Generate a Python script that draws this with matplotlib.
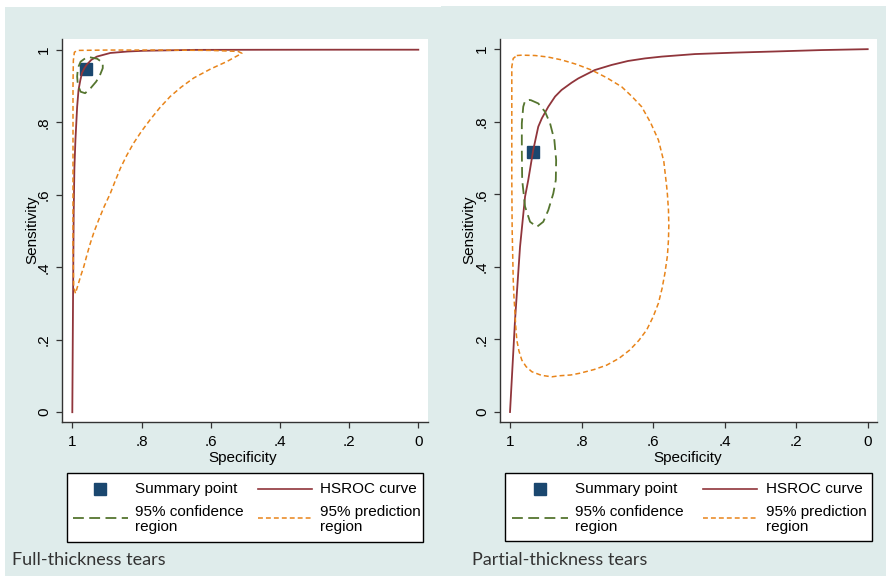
import matplotlib
matplotlib.use("Agg")
import matplotlib.pyplot as plt
from matplotlib.lines import Line2D
from matplotlib.patches import Rectangle

# ---------------- data ----------------
titles = ["Full-thickness tears", "Partial-thickness tears"]
tick_vals = [0, 0.2, 0.4, 0.6, 0.8, 1.0]
tick_labels = ["0", ".2", ".4", ".6", ".8", "1"]

# Full-thickness tears
full_sum_spec = 0.960
full_sum_sens = 0.947
full_hsroc_spec = [1.000, 0.998, 0.996, 0.994, 0.991, 0.986, 0.982, 0.977, 0.972, 0.965,
                   0.958, 0.945, 0.929, 0.890, 0.840, 0.794, 0.649, 0.450, 0.200, 0.000]
full_hsroc_sens = [0.000, 0.300, 0.550, 0.673, 0.751, 0.843, 0.889, 0.915, 0.936, 0.949,
                   0.959, 0.972, 0.981, 0.991, 0.995, 0.997, 0.9995, 0.9998, 1.000, 1.000]
full_conf_spec = [0.949, 0.928, 0.912, 0.912, 0.920, 0.931, 0.947, 0.963, 0.976,
                  0.984, 0.986, 0.984, 0.976, 0.963, 0.949]
full_conf_sens = [0.979, 0.975, 0.964, 0.949, 0.930, 0.912, 0.894, 0.880, 0.884,
                  0.903, 0.926, 0.949, 0.967, 0.976, 0.979]
full_pred_spec = [0.991, 0.996, 0.998, 0.998, 0.998, 0.998, 0.997, 0.994, 0.985,
                  0.900, 0.750, 0.600, 0.540, 0.520, 0.510,
                  0.554, 0.600, 0.649, 0.685, 0.717, 0.747, 0.775, 0.800, 0.823,
                  0.843, 0.861, 0.876, 0.890, 0.908, 0.924, 0.937, 0.948, 0.958,
                  0.967, 0.975, 0.982, 0.987, 0.991]
full_pred_sens = [0.328, 0.346, 0.450, 0.600, 0.750, 0.900, 0.970, 0.993, 0.998,
                  0.999, 0.999, 0.998, 0.996, 0.995, 0.990,
                  0.967, 0.947, 0.922, 0.897, 0.871, 0.840, 0.807, 0.775, 0.742,
                  0.708, 0.673, 0.638, 0.604, 0.567, 0.530, 0.498, 0.466, 0.433,
                  0.401, 0.378, 0.356, 0.340, 0.328]

# Partial-thickness tears
part_sum_spec = 0.935
part_sum_sens = 0.717
part_hsroc_spec = [1.000, 0.986, 0.972, 0.958, 0.949, 0.935, 0.921, 0.911, 0.893, 0.874,
                   0.856, 0.828, 0.809, 0.763, 0.716, 0.670, 0.623, 0.576, 0.483,
                   0.370, 0.264, 0.130, 0.000]
part_hsroc_sens = [0.000, 0.253, 0.455, 0.593, 0.639, 0.722, 0.786, 0.809, 0.841, 0.869,
                   0.887, 0.907, 0.919, 0.942, 0.956, 0.967, 0.974, 0.979, 0.986,
                   0.990, 0.993, 0.997, 0.9995]
part_conf_spec = [0.944, 0.921, 0.902, 0.888, 0.876, 0.871, 0.872, 0.879, 0.893,
                  0.907, 0.925, 0.944, 0.958, 0.963, 0.966, 0.967, 0.967, 0.963,
                  0.958, 0.944]
part_conf_sens = [0.860, 0.850, 0.827, 0.795, 0.749, 0.694, 0.639, 0.602, 0.556,
                  0.524, 0.510, 0.524, 0.566, 0.612, 0.639, 0.722, 0.795, 0.841,
                  0.857, 0.860]
part_pred_spec = [0.981, 0.967, 0.930, 0.895, 0.856, 0.815, 0.772, 0.730, 0.688,
                  0.660, 0.632, 0.607, 0.585, 0.570, 0.562, 0.560, 0.557, 0.556,
                  0.557, 0.560, 0.567, 0.575, 0.585, 0.600, 0.618, 0.640, 0.665,
                  0.695, 0.730, 0.765, 0.804, 0.830, 0.860, 0.883, 0.912, 0.939,
                  0.955, 0.967, 0.975, 0.981, 0.984, 0.986, 0.989, 0.991, 0.994,
                  0.995, 0.995, 0.995, 0.991, 0.981]
part_pred_sens = [0.982, 0.983, 0.982, 0.978, 0.970, 0.958, 0.942, 0.921, 0.896,
                  0.870, 0.841, 0.797, 0.749, 0.690, 0.621, 0.600, 0.556, 0.515,
                  0.474, 0.430, 0.382, 0.340, 0.300, 0.262, 0.226, 0.197, 0.171,
                  0.148, 0.129, 0.117, 0.107, 0.102, 0.100, 0.097, 0.101, 0.111,
                  0.125, 0.143, 0.168, 0.198, 0.235, 0.272, 0.318, 0.364, 0.501,
                  0.639, 0.841, 0.951, 0.974, 0.982]

legend_labels = ["Summary point", "HSROC curve", "95% confidence\nregion", "95% prediction\nregion"]

# ---------------- styling ----------------
NAVY = "#1a476f"
MAROON = "#90353b"
GREEN = "#55752f"
ORANGE = "#e8841a"
PANEL_BG = "#dfeceb"
FONT = "Liberation Sans"
W, H = 887, 576

plt.rcParams["font.family"] = [FONT, "DejaVu Sans"]

fig = plt.figure(figsize=(W / 100, H / 100), dpi=100)
fig.patch.set_facecolor("white")


def fx(px):
    return px / W


def fy(py):
    return 1 - py / H


def fig_rect(x0, y0, x1, y1, **kw):
    r = Rectangle((fx(x0), fy(y1)), fx(x1) - fx(x0), (y1 - y0) / H,
                  transform=fig.transFigure, **kw)
    fig.add_artist(r)


# panel backgrounds
fig_rect(5, 7, 441, 576, facecolor=PANEL_BG, edgecolor="none", zorder=0)
fig_rect(441, 6, 887, 576, facecolor=PANEL_BG, edgecolor="none", zorder=0)

panels = [
    dict(data=(full_sum_spec, full_sum_sens, full_hsroc_spec, full_hsroc_sens,
               full_conf_spec, full_conf_sens, full_pred_spec, full_pred_sens),
         ax=(62, 39, 428, 422), xlim=(1.0298, -0.028), ylim=(-0.027, 1.0295),
         ylab=(32, 230), xlab=(243, 458), caption=(12, 560),
         leg=dict(box=(67, 473, 423, 542), mk=100, t1=135, l2=(258, 312), t2=320,
                  l3=(73, 128))),
    dict(data=(part_sum_spec, part_sum_sens, part_hsroc_spec, part_hsroc_sens,
               part_conf_spec, part_conf_sens, part_pred_spec, part_pred_sens),
         ax=(500, 39, 877, 422), xlim=(1.028, -0.026), ylim=(-0.0275, 1.0275),
         ylab=(469, 230), xlab=(688, 458), caption=(472, 560),
         leg=dict(box=(505, 473, 872, 541), mk=540, t1=575, l2=(703, 757), t2=766,
                  l3=(512, 568))),
]

for i, p in enumerate(panels):
    (s_spec, s_sens, h_spec, h_sens, c_spec, c_sens, p_spec, p_sens) = p["data"]
    x0, y0, x1, y1 = p["ax"]
    ax = fig.add_axes([fx(x0), fy(y1), fx(x1) - fx(x0), (y1 - y0) / H])
    ax.set_facecolor("white")
    ax.set_xlim(*p["xlim"])
    ax.set_ylim(*p["ylim"])

    ax.plot([s_spec], [s_sens], marker="s", markersize=8, color=NAVY,
            linestyle="none", zorder=2)
    ax.plot(h_spec, h_sens, color=MAROON, lw=1.3, zorder=3,
            solid_joinstyle="round")
    ax.plot(c_spec, c_sens, color=GREEN, lw=1.3, dashes=(6, 3), zorder=4)
    ax.plot(p_spec, p_sens, color=ORANGE, lw=1.1, dashes=(3.2, 2), zorder=5)

    for side in ("top", "right"):
        ax.spines[side].set_visible(False)
    for side in ("left", "bottom"):
        ax.spines[side].set_color("#333333")
        ax.spines[side].set_linewidth(1.0)
    ax.set_xticks(tick_vals)
    ax.set_xticklabels(tick_labels)
    ax.set_yticks(tick_vals)
    ax.set_yticklabels(tick_labels, rotation=90, va="center")
    ax.tick_params(axis="both", direction="out", length=4, width=0.9,
                   color="#333333", labelsize=11, labelcolor="black")
    ax.tick_params(axis="x", pad=5)
    ax.tick_params(axis="y", pad=4)

    fig.text(fx(p["ylab"][0]), fy(p["ylab"][1]), "Sensitivity", rotation=90,
             ha="center", va="center", fontsize=11, color="black")
    fig.text(fx(p["xlab"][0]), fy(p["xlab"][1]), "Specificity",
             ha="center", va="center", fontsize=11, color="black")
    fig.text(fx(p["caption"][0]), fy(p["caption"][1]), titles[i],
             ha="left", va="center", fontsize=13, color="#333333",
             family=["Lato", "DejaVu Sans"])

    # legend
    lg = p["leg"]
    bx0, by0, bx1, by1 = lg["box"]
    fig_rect(bx0, by0, bx1, by1, facecolor="white", edgecolor="black",
             linewidth=1.0, zorder=6)
    r1, r2 = 489, 518
    fig.add_artist(Line2D([fx(lg["mk"])], [fy(r1)], marker="s", markersize=8,
                          color=NAVY, linestyle="none",
                          transform=fig.transFigure, zorder=7))
    fig.text(fx(lg["t1"]), fy(r1), legend_labels[0], ha="left", va="center",
             fontsize=11, zorder=7)
    fig.add_artist(Line2D([fx(lg["l2"][0]), fx(lg["l2"][1])], [fy(r1), fy(r1)],
                          color=MAROON, lw=1.2, transform=fig.transFigure, zorder=7))
    fig.text(fx(lg["t2"]), fy(r1), legend_labels[1], ha="left", va="center",
             fontsize=11, zorder=7)
    fig.add_artist(Line2D([fx(lg["l3"][0]), fx(lg["l3"][1])], [fy(r2), fy(r2)],
                          color=GREEN, lw=1.3, dashes=(6, 3),
                          transform=fig.transFigure, zorder=7))
    fig.text(fx(lg["t1"]), fy(519.5), legend_labels[2], ha="left", va="center",
             fontsize=11, linespacing=1.1, zorder=7)
    fig.add_artist(Line2D([fx(lg["l2"][0]), fx(lg["l2"][1])], [fy(r2), fy(r2)],
                          color=ORANGE, lw=1.1, dashes=(3.2, 2),
                          transform=fig.transFigure, zorder=7))
    fig.text(fx(lg["t2"]), fy(519.5), legend_labels[3], ha="left", va="center",
             fontsize=11, linespacing=1.1, zorder=7)

fig.savefig("out.png", dpi=100, facecolor="white")
